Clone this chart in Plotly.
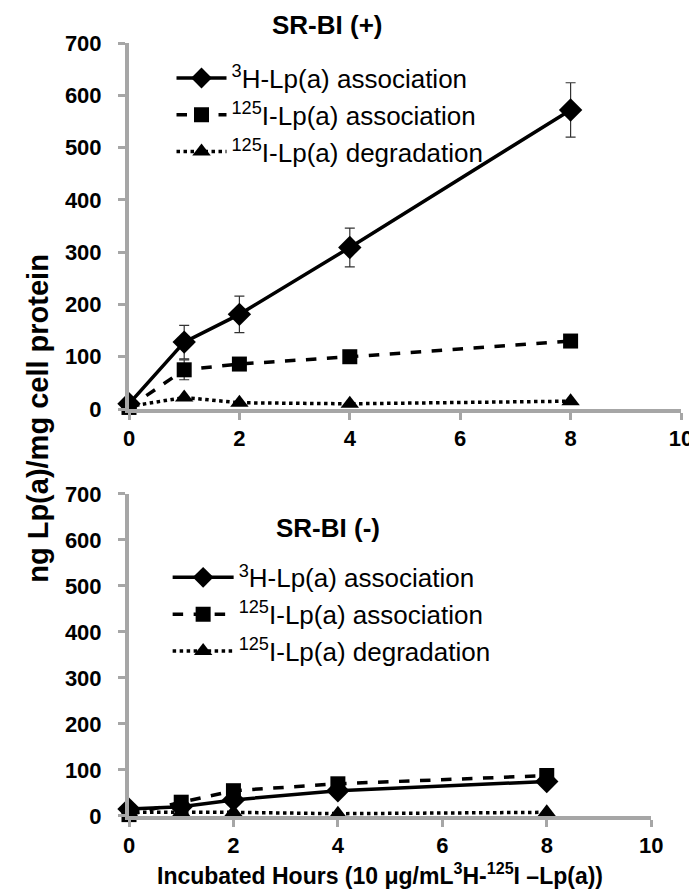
import plotly.graph_objects as go

hours = [0, 1, 2, 4, 8]

# SR-BI (+)
pos_h3_assoc = [10, 128, 181, 309, 572]
pos_h3_err = [0, 32, 35, 37, 52]
pos_i125_assoc = [3, 75, 86, 100, 130]
pos_i125_err = [0, 19, 0, 0, 0]
pos_i125_degr = [5, 22, 12, 10, 15]

# SR-BI (-)
neg_h3_assoc = [15, 20, 35, 55, 75]
neg_i125_assoc = [3, 30, 55, 70, 88]
neg_i125_degr = [8, 8, 8, 5, 8]

series_names = ["<sup>3</sup>H-Lp(a) association",
                "<sup>125</sup>I-Lp(a) association",
                "<sup>125</sup>I-Lp(a) degradation"]
x_ticks = [0, 2, 4, 6, 8, 10]
y_ticks = [0, 100, 200, 300, 400, 500, 600, 700]

FONT = "Liberation Sans, Arial, sans-serif"
AXIS_GRAY = "#a6a6a6"

styles = [
    dict(line=dict(color="black", width=3.5, dash="solid"),
         marker=dict(symbol="diamond", size=18, color="black")),
    dict(line=dict(color="black", width=3.5, dash="dash"),
         marker=dict(symbol="square", size=15, color="black")),
    dict(line=dict(color="black", width=3.5, dash="dot"),
         marker=dict(symbol="triangle-up", size=16, color="black")),
]

fig = go.Figure()

pos_data = [(pos_h3_assoc, pos_h3_err), (pos_i125_assoc, pos_i125_err), (pos_i125_degr, None)]
for i, (vals, err) in enumerate(pos_data):
    kw = {}
    if err is not None:
        kw["error_y"] = dict(type="data", array=err, visible=True, color="#333333",
                             thickness=1.2, width=5)
    fig.add_trace(go.Scatter(x=hours, y=vals, mode="lines+markers", name=series_names[i],
                             xaxis="x", yaxis="y", legend="legend", legendgroup=f"a{i}",
                             cliponaxis=False, **styles[i], **kw))

neg_data = [neg_h3_assoc, neg_i125_assoc, neg_i125_degr]
for i, vals in enumerate(neg_data):
    fig.add_trace(go.Scatter(x=hours, y=vals, mode="lines+markers", name=series_names[i],
                             xaxis="x2", yaxis="y2", legend="legend2", legendgroup=f"b{i}",
                             cliponaxis=False, **styles[i]))

tickfont = dict(family=FONT, size=22, color="black", weight="bold")
axis_common = dict(showline=True, linecolor=AXIS_GRAY, linewidth=4, ticks="outside",
                   tickcolor=AXIS_GRAY, tickwidth=3, ticklen=7, showgrid=False,
                   zeroline=False, tickfont=tickfont)
xaxis_common = dict(axis_common, ticklabelstandoff=0)
yaxis_common = dict(axis_common, ticklabelstandoff=12)

legend_font = dict(family=FONT, size=26, color="black")

# Plot area: left 121, right 680 (width 559); top 35, bottom 808 (height 773)
fig.update_layout(
    width=697, height=892,
    margin=dict(l=121, r=17, t=35, b=84),
    paper_bgcolor="white", plot_bgcolor="white",
    showlegend=True,
    xaxis=dict(domain=[0, 1], range=[0, 10], tickvals=x_ticks, anchor="y", **xaxis_common),
    yaxis=dict(domain=[0.5265, 1], range=[0, 700], tickvals=y_ticks, anchor="x", **yaxis_common),
    xaxis2=dict(domain=[0, 0.946], range=[0, 10], tickvals=x_ticks, anchor="y2", **xaxis_common),
    yaxis2=dict(domain=[0, 0.4166], range=[0, 700], tickvals=y_ticks, anchor="x2", **yaxis_common),
    legend=dict(x=0.077, y=0.985, xanchor="left", yanchor="top", bgcolor="rgba(0,0,0,0)",
                font=legend_font, tracegroupgap=0, itemwidth=50),
    legend2=dict(x=0.070, y=0.339, xanchor="left", yanchor="top", bgcolor="rgba(0,0,0,0)",
                 font=legend_font, tracegroupgap=0, itemwidth=61),
    annotations=[
        dict(text="SR-BI (+)", xref="paper", yref="paper", x=0.36, y=1.023,
             xanchor="center", yanchor="middle", showarrow=False,
             font=dict(family=FONT, size=26, color="black", weight="bold")),
        dict(text="SR-BI (-)", xref="paper", yref="paper", x=0.36, y=0.372,
             xanchor="center", yanchor="middle", showarrow=False,
             font=dict(family=FONT, size=26, color="black", weight="bold")),
        dict(text="ng Lp(a)/mg cell protein", xref="paper", yref="paper", x=-0.165, y=0.515,
             xanchor="center", yanchor="middle", textangle=-90, showarrow=False,
             font=dict(family=FONT, size=29, color="black", weight="bold")),
        dict(text="Incubated Hours (10 μg/mL<sup>3</sup>H-<sup>125</sup>I –Lp(a))",
             xref="paper", yref="paper", x=0.454, y=-0.075,
             xanchor="center", yanchor="middle", showarrow=False,
             font=dict(family=FONT, size=23, color="black", weight="bold")),
    ],
)

fig.write_html("out.html")
